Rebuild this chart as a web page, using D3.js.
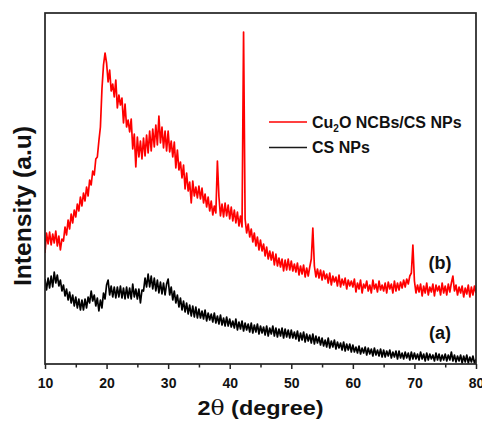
<!DOCTYPE html>
<html>
<head>
<meta charset="utf-8">
<script src="https://cdn.jsdelivr.net/npm/d3@7"></script>
<style>
  html, body { margin: 0; padding: 0; background: #fff; }
  svg { display: block; font-family: "Liberation Sans", Arial, sans-serif; }
</style>
</head>
<body>
<svg id="chart" width="482" height="424"></svg>
<script>
// 2-theta scan grid (degrees), one reading every 0.25 degree from 10 to 80
const twoTheta = d3.range(0, 281).map(i => 10 + i * 0.25);

// Cu2O NCBs / CS NPs pattern (b), intensity in arbitrary units
const seriesB = [
  110,130,119,131,118,129,120,132,117,127,113,124,122,136,128,143,134,149,140,153,
  146,159,152,166,157,170,162,176,167,183,178,192,188,204,206,222,236,274,298,310,
  300,281,293,272,279,266,283,255,268,258,265,240,259,236,243,231,244,214,229,196,
  226,206,222,204,225,207,228,210,232,212,234,216,238,218,247,220,236,215,232,212,
  232,211,222,206,221,195,213,193,201,185,198,174,190,172,181,160,182,167,176,165,
  177,164,175,160,169,156,166,152,162,148,157,150,202,166,147,159,146,160,147,158,
  144,156,142,153,140,151,137,147,136,331,144,130,139,126,134,121,130,117,126,113,
  123,112,119,107,116,104,112,103,111,98,109,97,105,96,104,92,103,93,104,93,
  102,92,99,91,100,88,97,89,98,86,95,87,96,104,135,97,86,94,85,93,
  83,92,84,89,80,90,78,87,81,86,77,88,76,84,78,85,74,83,77,82,
  76,84,71,80,74,83,70,79,75,82,72,78,70,83,74,79,71,82,73,78,
  72,80,70,81,74,79,70,82,72,80,73,81,75,83,76,84,79,87,90,118,
  82,70,78,71,79,67,77,70,80,68,76,71,79,67,78,72,77,68,80,70,
  77,68,79,71,80,87,72,78,68,76,70,77,66,75,69,78,66,76,68,77,
  70
];

// CS NPs pattern (a), intensity in arbitrary units
const seriesA = [
  84,73,85,75,87,76,91,80,88,77,83,72,78,67,74,63,71,60,68,57,
  66,55,64,53,63,53,64,55,66,60,72,62,68,57,65,52,63,55,70,64,
  78,83,68,77,66,76,65,76,66,77,65,75,64,76,65,75,64,79,66,74,
  64,74,60,73,72,85,76,89,76,87,74,85,72,83,70,81,69,80,68,79,
  84,68,76,63,72,60,68,56,65,53,62,51,60,49,58,47,57,46,56,45,
  54,45,52,44,53,42,50,43,49,41,50,40,47,39,48,38,45,37,46,37,
  44,36,42,35,44,33,41,34,42,32,40,33,39,31,40,30,38,31,39,29,
  37,30,36,28,37,27,35,29,37,27,35,26,34,27,35,25,34,26,33,25,
  33,25,31,24,32,22,30,23,31,21,29,22,28,20,29,19,27,20,26,18,
  25,17,23,16,25,15,22,16,23,14,21,15,20,13,21,12,19,13,19,11,
  18,11,16,10,17,9,15,10,16,8,15,9,14,7,15,8,13,7,14,6,
  13,6,12,7,13,5,11,6,12,4,12,5,10,4,11,5,10,3,11,4,
  10,4,9,3,11,4,9,2,10,3,9,4,8,2,10,3,9,2,8,3,
  9,2,8,3,11,2,8,1,7,2,8,0,7,1,8,0,6,1,7,0,
  4
];

const majorTicks = [10, 20, 30, 40, 50, 60, 70, 80];
const minorTicks = [15, 25, 35, 45, 55, 65, 75];

const legendItems = [
  { name: "Cu", sub: "2", rest: "O NCBs/CS NPs", color: "#ff0000" },
  { name: "CS NPs", sub: null, rest: null, color: "#1a1a1a" }
];
const curveLabels = [
  { text: "(b)", series: "b" },
  { text: "(a)", series: "a" }
];

const svg = d3.select("#chart");
const plotLeft = 45, plotRight = 476, plotTop = 13, plotBottom = 364;

const x = d3.scaleLinear().domain([10, 80]).range([plotLeft, plotRight]);
const y = d3.scaleLinear().domain([-1, 350]).range([plotBottom, plotTop]);

svg.append("defs").append("clipPath").attr("id", "plotClip")
  .append("rect").attr("x", plotLeft).attr("y", plotTop)
  .attr("width", plotRight - plotLeft).attr("height", plotBottom - plotTop);

const line = d3.line()
  .x((d, i) => x(twoTheta[i]))
  .y(d => y(d));

const plot = svg.append("g").attr("clip-path", "url(#plotClip)");

plot.append("path")
  .datum(seriesA)
  .attr("d", line)
  .attr("fill", "none")
  .attr("stroke", "#000")
  .attr("stroke-width", 1.7)
  .attr("stroke-linejoin", "round");

plot.append("path")
  .datum(seriesB)
  .attr("d", line)
  .attr("fill", "none")
  .attr("stroke", "#ff0000")
  .attr("stroke-width", 1.7)
  .attr("stroke-linejoin", "round");

// frame
svg.append("rect")
  .attr("x", plotLeft).attr("y", plotTop)
  .attr("width", plotRight - plotLeft).attr("height", plotBottom - plotTop)
  .attr("fill", "none")
  .attr("stroke", "#222")
  .attr("stroke-width", 1.7);

// bottom axis: labelled major ticks and unlabelled minor ticks
const xAxis = svg.append("g")
  .attr("transform", `translate(0,${plotBottom})`)
  .call(d3.axisBottom(x).tickValues(majorTicks).tickSize(5).tickSizeOuter(0).tickPadding(9));
xAxis.select(".domain").remove();
xAxis.selectAll(".tick line").attr("stroke", "#222").attr("stroke-width", 1.5);
xAxis.selectAll(".tick text")
  .attr("font-family", "'Liberation Sans', Arial, sans-serif")
  .attr("font-size", 14)
  .attr("font-weight", "bold")
  .attr("fill", "#111");

const xMinor = svg.append("g")
  .attr("transform", `translate(0,${plotBottom})`)
  .call(d3.axisBottom(x).tickValues(minorTicks).tickSize(3.5).tickFormat(""));
xMinor.select(".domain").remove();
xMinor.selectAll(".tick line").attr("stroke", "#222").attr("stroke-width", 1.5);

// axis titles
const xTitle = svg.append("text")
  .attr("x", (plotLeft + plotRight) / 2)
  .attr("y", 415)
  .attr("text-anchor", "middle")
  .attr("font-size", 20)
  .attr("font-weight", "bold")
  .attr("fill", "#111")
  .attr("textLength", 126)
  .attr("lengthAdjust", "spacingAndGlyphs");
xTitle.append("tspan").text("2");
xTitle.append("tspan").attr("font-family", "'DejaVu Serif', serif").attr("font-weight", "normal").text("θ");
xTitle.append("tspan").text(" (degree)");

svg.append("text")
  .attr("transform", "translate(31,206) rotate(-90)")
  .attr("text-anchor", "middle")
  .attr("font-size", 23)
  .attr("font-weight", "bold")
  .attr("fill", "#111")
  .attr("textLength", 160)
  .attr("lengthAdjust", "spacingAndGlyphs")
  .text("Intensity (a.u)");

// legend
const legend = svg.append("g");
legendItems.forEach((item, i) => {
  const ly = 122 + i * 25.5;
  legend.append("line")
    .attr("x1", 269).attr("x2", 307)
    .attr("y1", ly).attr("y2", ly)
    .attr("stroke", item.color)
    .attr("stroke-width", 1.5);
  const t = legend.append("text")
    .attr("x", 312).attr("y", ly + 5.5)
    .attr("font-size", 16)
    .attr("font-weight", "bold")
    .attr("fill", "#111");
  t.append("tspan").text(item.name);
  if (item.sub) {
    t.append("tspan").attr("font-size", 10).attr("dy", 4).text(item.sub);
    t.append("tspan").attr("dy", -4).text(item.rest);
  }
});

// curve tags
const tagY = { b: 269, a: 339 };
curveLabels.forEach(c => {
  svg.append("text")
    .attr("x", 440).attr("y", tagY[c.series])
    .attr("text-anchor", "middle")
    .attr("font-size", 18)
    .attr("font-weight", "bold")
    .attr("fill", "#111")
    .text(c.text);
});
</script>
</body>
</html>
